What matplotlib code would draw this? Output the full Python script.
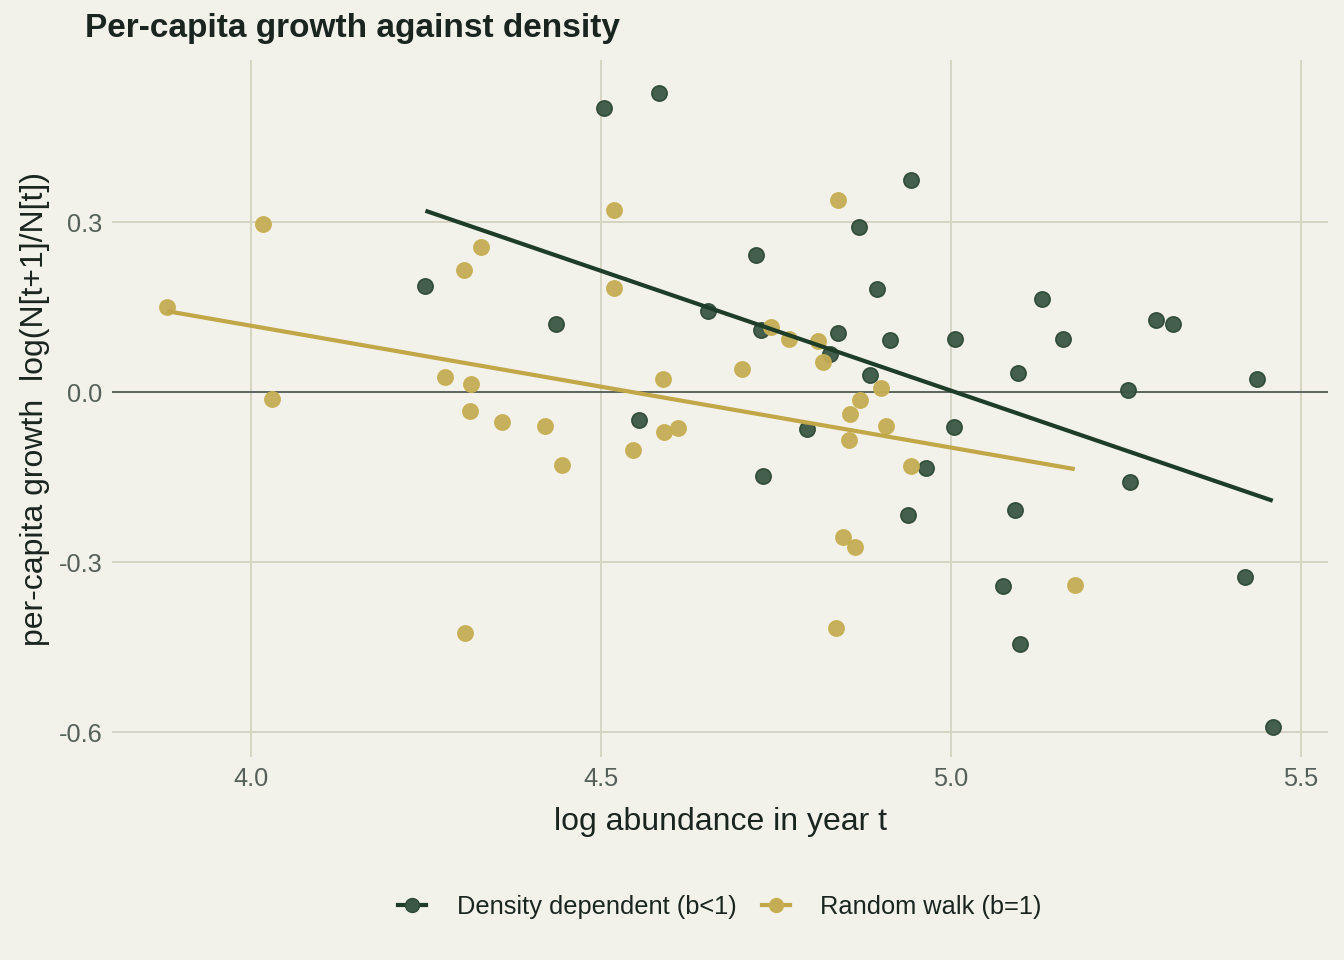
import numpy as np
import matplotlib
matplotlib.use("Agg")
import matplotlib.pyplot as plt
from matplotlib.lines import Line2D

# log abundance (x) and per-capita growth (y)
dd_x = [4.249, 4.436, 4.504, 4.583, 4.554, 4.653, 4.721, 4.729, 4.731, 4.794,
        4.827, 4.839, 4.869, 4.884, 4.894, 4.913, 4.939, 4.943, 4.964, 5.004,
        5.006, 5.074, 5.091, 5.096, 5.099, 5.130, 5.160, 5.253, 5.256, 5.293,
        5.317, 5.420, 5.437, 5.460]
dd_y = [0.187, 0.120, 0.501, 0.527, -0.049, 0.143, 0.242, 0.109, -0.148, -0.065,
        0.067, 0.104, 0.291, 0.030, 0.182, 0.092, -0.217, 0.374, -0.134, -0.062,
        0.094, -0.342, -0.208, 0.034, -0.445, 0.164, 0.094, 0.004, -0.159, 0.127,
        0.120, -0.327, 0.023, -0.591]

rw_x = [3.880, 4.017, 4.030, 4.277, 4.304, 4.306, 4.313, 4.314, 4.329, 4.359,
        4.420, 4.444, 4.519, 4.519, 4.546, 4.589, 4.590, 4.610, 4.701, 4.743,
        4.769, 4.810, 4.817, 4.839, 4.836, 4.846, 4.854, 4.856, 4.863, 4.870,
        4.900, 4.907, 4.943, 5.177]
rw_y = [0.150, 0.296, -0.012, 0.026, 0.215, -0.426, -0.034, 0.014, 0.256, -0.053,
        -0.060, -0.129, 0.321, 0.183, -0.102, 0.023, -0.071, -0.064, 0.041, 0.115,
        0.094, 0.090, 0.053, 0.339, -0.416, -0.255, -0.085, -0.039, -0.273, -0.014,
        0.007, -0.060, -0.131, -0.341]

series_names = ["Density dependent (b<1)", "Random walk (b=1)"]
x_ticks = [4.0, 4.5, 5.0, 5.5]
y_ticks = [0.3, 0.0, -0.3, -0.6]

bg = "#F2F1EA"
grid_col = "#D6D5C3"
pt_cols = ["#3A5843", "#C4AD55"]
edge_cols = ["#2C4A35", "#C8AF52"]
line_cols = ["#1D3D28", "#C1A747"]

plt.rcParams["font.family"] = ["Liberation Sans", "DejaVu Sans"]

fig = plt.figure(figsize=(13.44, 9.6), dpi=100, facecolor=bg)
ax = fig.add_axes([112 / 1344, 1 - 757 / 960, (1328 - 112) / 1344, (757 - 60) / 960])
ax.set_facecolor(bg)

for s in ax.spines.values():
    s.set_visible(False)
ax.tick_params(length=0, labelsize=18.3, labelcolor="#56605A", pad=7)
ax.set_xticks(x_ticks)
ax.set_yticks(y_ticks)
ax.set_xticklabels(["%.1f" % t for t in x_ticks])
ax.set_yticklabels(["%.1f" % t for t in y_ticks])
ax.grid(True, color=grid_col, linewidth=1.4, zorder=0)
ax.set_axisbelow(True)
ax.axhline(0, color="#5C6660", linewidth=1.4, zorder=1)

datasets = [(dd_x, dd_y), (rw_x, rw_y)]
for i, (xs, ys) in enumerate(datasets):
    xs = np.array(xs)
    ys = np.array(ys)
    # least-squares fit, drawn across the range of the data
    b, a = np.polyfit(xs, ys, 1)
    xl = np.array([xs.min(), xs.max()])
    ax.scatter(xs, ys, s=120, color=pt_cols[i], edgecolor=edge_cols[i],
               linewidth=1.2, alpha=0.95, zorder=3)
    ax.plot(xl, a + b * xl, color=line_cols[i], linewidth=3.0, zorder=4,
            solid_capstyle="butt")

ax.set_xlim(3.801, 5.539)
ax.set_ylim(-0.644, 0.586)

ax.set_xlabel("log abundance in year t", fontsize=23, color="#1A2520", labelpad=12)
ax.set_ylabel("per-capita growth  log(N[t+1]/N[t])", fontsize=23, color="#1A2520", labelpad=6)
fig.text(85 / 1344, 1 - 29 / 960, "Per-capita growth against density", fontsize=24,
         fontweight="bold", color="#1A2520", va="center", ha="left")

handles = [Line2D([0], [0], color=line_cols[i], linewidth=3.0, marker="o",
                  markersize=10, markerfacecolor=pt_cols[i], markeredgecolor=edge_cols[i])
           for i in range(2)]
fig.legend(handles, series_names, loc="center", bbox_to_anchor=(720 / 1344, 1 - 907 / 960),
           ncol=2, frameon=False, fontsize=18.3, handlelength=1.1, columnspacing=1.0,
           handletextpad=1.2, labelcolor="#1A2520")

fig.savefig("out.png", dpi=100, facecolor=bg)
